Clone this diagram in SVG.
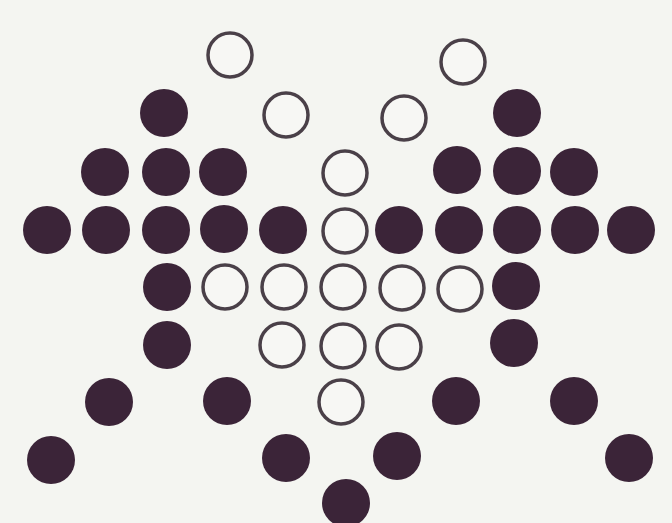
<svg xmlns="http://www.w3.org/2000/svg" width="672" height="523" viewBox="0 0 672 523">
<style>
.f{fill:#3b2438}
.o{fill:#f7f7f4;stroke:#4a4048;stroke-width:3.5}
</style>
<rect width="672" height="523" fill="#f4f5f1"/>
<g id="open">
<circle class="o" cx="230" cy="55" r="22"/>
<circle class="o" cx="463" cy="62" r="22"/>
<circle class="o" cx="286" cy="115" r="22"/>
<circle class="o" cx="404" cy="118" r="22"/>
<circle class="o" cx="345" cy="173" r="22"/>
<circle class="o" cx="345" cy="231" r="22"/>
<circle class="o" cx="225" cy="287" r="22"/>
<circle class="o" cx="284" cy="287" r="22"/>
<circle class="o" cx="343" cy="287" r="22"/>
<circle class="o" cx="402" cy="288" r="22"/>
<circle class="o" cx="460" cy="289" r="22"/>
<circle class="o" cx="282" cy="345" r="22"/>
<circle class="o" cx="343" cy="346" r="22"/>
<circle class="o" cx="399" cy="347" r="22"/>
<circle class="o" cx="341" cy="402" r="22"/>
</g>
<g id="filled">
<circle class="f" cx="164" cy="113" r="24"/>
<circle class="f" cx="517" cy="113" r="24"/>
<circle class="f" cx="105" cy="172" r="24"/>
<circle class="f" cx="166" cy="172" r="24"/>
<circle class="f" cx="223" cy="172" r="24"/>
<circle class="f" cx="457" cy="170" r="24"/>
<circle class="f" cx="517" cy="171" r="24"/>
<circle class="f" cx="574" cy="172" r="24"/>
<circle class="f" cx="47" cy="230" r="24"/>
<circle class="f" cx="106" cy="230" r="24"/>
<circle class="f" cx="166" cy="230" r="24"/>
<circle class="f" cx="224" cy="229" r="24"/>
<circle class="f" cx="283" cy="230" r="24"/>
<circle class="f" cx="399" cy="230" r="24"/>
<circle class="f" cx="459" cy="230" r="24"/>
<circle class="f" cx="517" cy="230" r="24"/>
<circle class="f" cx="575" cy="230" r="24"/>
<circle class="f" cx="631" cy="230" r="24"/>
<circle class="f" cx="167" cy="287" r="24"/>
<circle class="f" cx="516" cy="286" r="24"/>
<circle class="f" cx="167" cy="345" r="24"/>
<circle class="f" cx="514" cy="343" r="24"/>
<circle class="f" cx="109" cy="402" r="24"/>
<circle class="f" cx="227" cy="401" r="24"/>
<circle class="f" cx="456" cy="401" r="24"/>
<circle class="f" cx="574" cy="401" r="24"/>
<circle class="f" cx="51" cy="460" r="24"/>
<circle class="f" cx="286" cy="458" r="24"/>
<circle class="f" cx="397" cy="456" r="24"/>
<circle class="f" cx="629" cy="458" r="24"/>
<circle class="f" cx="346" cy="503" r="24"/>
</g>
</svg>
